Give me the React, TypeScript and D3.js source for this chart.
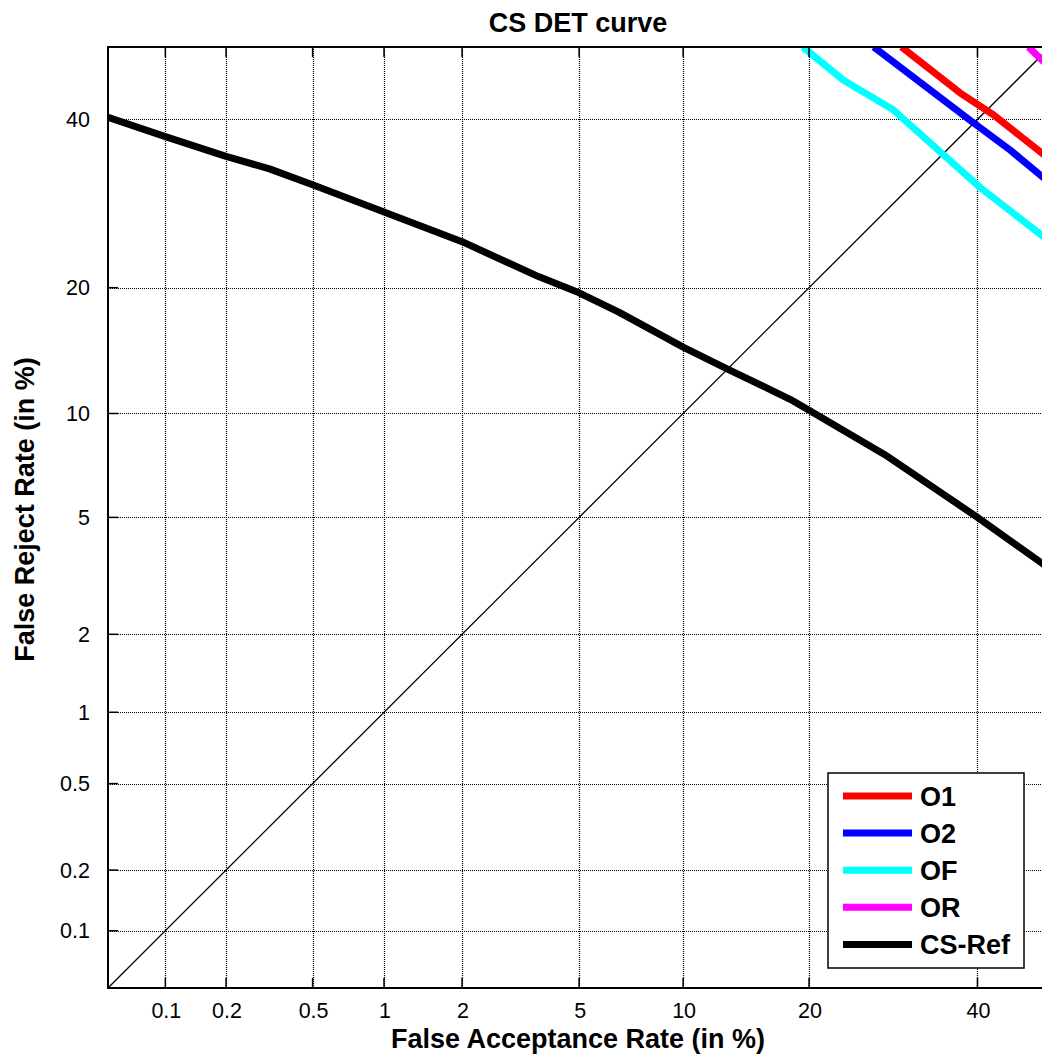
import React, { useRef, useEffect } from 'react';
import * as d3 from 'd3';

// DET axes: values in %, drawn on a normal-deviate (probit) scale
const xTicks = [0.1, 0.2, 0.5, 1, 2, 5, 10, 20, 40];
const yTicks = [0.1, 0.2, 0.5, 1, 2, 5, 10, 20, 40];
const axisMin = 0.05;
const axisMax = 50;

const seriesNames = ['O1', 'O2', 'OF', 'OR', 'CS-Ref'];
const seriesColors = ['#ff0000', '#0000ff', '#00ffff', '#ff00ff', '#000000'];

const o1Far = [30.2, 37.7, 42.2, 50];
const o1Frr = [50, 43.6, 40.6, 34.7];

const o2Far = [26.9, 39, 44.5, 50];
const o2Frr = [50, 39.9, 35.9, 31.7];

const ofFar = [19.4, 23.5, 29.2, 40.3, 50];
const ofFrr = [50, 45.4, 41.3, 31.2, 24.8];

const orFar = [47, 50];
const orFrr = [50, 47.1];

const refFar = [0.05, 0.1, 0.2, 0.32, 0.5, 1, 2, 3.7, 5, 6.6, 10, 13, 18.2, 20, 28.2, 40, 50];
const refFrr = [40.3, 37.7, 35.1, 33.5, 31.5, 28.2, 24.8, 21.1, 19.5, 17.7, 14.7, 13, 10.9, 10.2, 7.7, 5, 3.4];

const seriesFar = [o1Far, o2Far, ofFar, orFar, refFar];
const seriesFrr = [o1Frr, o2Frr, ofFrr, orFrr, refFrr];

// inverse normal CDF (Acklam)
function probit(p: number): number {
  const a = [-3.969683028665376e+01, 2.209460984245205e+02, -2.759285104469687e+02, 1.383577518672690e+02, -3.066479806614716e+01, 2.506628277459239e+00];
  const b = [-5.447609879822406e+01, 1.615858368580409e+02, -1.556989798598866e+02, 6.680131188771972e+01, -1.328068155288572e+01];
  const c = [-7.784894002430293e-03, -3.223964580411365e-01, -2.400758277161838e+00, -2.549732539343734e+00, 4.374664141464968e+00, 2.938163982698783e+00];
  const d = [7.784695709041462e-03, 3.224671290700398e-01, 2.445134137142996e+00, 3.754408661907416e+00];
  const pLow = 0.02425;
  if (p < pLow) {
    const q = Math.sqrt(-2 * Math.log(p));
    return (((((c[0] * q + c[1]) * q + c[2]) * q + c[3]) * q + c[4]) * q + c[5]) /
      ((((d[0] * q + d[1]) * q + d[2]) * q + d[3]) * q + 1);
  }
  if (p <= 1 - pLow) {
    const q = p - 0.5;
    const r = q * q;
    return (((((a[0] * r + a[1]) * r + a[2]) * r + a[3]) * r + a[4]) * r + a[5]) * q /
      (((((b[0] * r + b[1]) * r + b[2]) * r + b[3]) * r + b[4]) * r + 1);
  }
  const q = Math.sqrt(-2 * Math.log(1 - p));
  return -(((((c[0] * q + c[1]) * q + c[2]) * q + c[3]) * q + c[4]) * q + c[5]) /
    ((((d[0] * q + d[1]) * q + d[2]) * q + d[3]) * q + 1);
}

const layout = { width: 1042, height: 1056, left: 108, right: 1050, top: 47, bottom: 988 };

export default function App() {
  const ref = useRef<SVGSVGElement>(null);

  useEffect(() => {
    const svg = d3.select(ref.current);
    svg.selectAll('*').remove();

    const font = 'Arial, "Liberation Sans", Helvetica, sans-serif';

    const x = d3.scaleLinear()
      .domain([probit(axisMin / 100), probit(axisMax / 100)])
      .range([layout.left, layout.right]);
    const y = d3.scaleLinear()
      .domain([probit(axisMin / 100), probit(axisMax / 100)])
      .range([layout.bottom, layout.top]);
    const fx = (v: number) => x(probit(v / 100));
    const fy = (v: number) => y(probit(v / 100));

    svg.append('rect').attr('width', layout.width).attr('height', layout.height).attr('fill', '#fff');

    svg.append('defs').append('clipPath').attr('id', 'plotClip')
      .append('rect')
      .attr('x', layout.left).attr('y', layout.top)
      .attr('width', layout.right - layout.left).attr('height', layout.bottom - layout.top);

    // grid (dotted)
    const grid = svg.append('g').attr('stroke', '#000').attr('stroke-width', 1.2).attr('stroke-dasharray', '1,1');
    grid.selectAll('.vgrid').data(xTicks).join('line')
      .attr('class', 'vgrid')
      .attr('x1', d => Math.round(fx(d)) + 0.5).attr('x2', d => Math.round(fx(d)) + 0.5)
      .attr('y1', layout.top).attr('y2', layout.bottom);
    grid.selectAll('.hgrid').data(yTicks).join('line')
      .attr('class', 'hgrid')
      .attr('y1', d => Math.round(fy(d)) + 0.5).attr('y2', d => Math.round(fy(d)) + 0.5)
      .attr('x1', layout.left).attr('x2', layout.right);

    const plot = svg.append('g').attr('clip-path', 'url(#plotClip)');

    // EER diagonal
    plot.append('path')
      .datum([axisMin, axisMax])
      .attr('d', d3.line<number>().x(d => fx(d)).y(d => fy(d)))
      .attr('fill', 'none').attr('stroke', '#000').attr('stroke-width', 1.3);

    const line = d3.line<[number, number]>().x(d => fx(d[0])).y(d => fy(d[1]));
    seriesNames.forEach((name, i) => {
      const pts = seriesFar[i].map((v, j) => [v, seriesFrr[i][j]] as [number, number]);
      plot.append('path')
        .datum(pts)
        .attr('d', line)
        .attr('fill', 'none')
        .attr('stroke', seriesColors[i])
        .attr('stroke-width', 7)
        .attr('stroke-linejoin', 'round');
    });

    // frame
    svg.append('rect')
      .attr('x', layout.left).attr('y', layout.top)
      .attr('width', layout.right - layout.left).attr('height', layout.bottom - layout.top)
      .attr('fill', 'none').attr('stroke', '#000').attr('stroke-width', 2);

    // ticks (inward, MATLAB style)
    const tickLen = 10;
    const ticks = svg.append('g').attr('stroke', '#000').attr('stroke-width', 1.5);
    ticks.selectAll('.tb').data(xTicks).join('line').attr('class', 'tb')
      .attr('x1', d => fx(d)).attr('x2', d => fx(d))
      .attr('y1', layout.bottom).attr('y2', layout.bottom - tickLen);
    ticks.selectAll('.tt').data(xTicks).join('line').attr('class', 'tt')
      .attr('x1', d => fx(d)).attr('x2', d => fx(d))
      .attr('y1', layout.top).attr('y2', layout.top + tickLen);
    ticks.selectAll('.tl').data(yTicks).join('line').attr('class', 'tl')
      .attr('y1', d => fy(d)).attr('y2', d => fy(d))
      .attr('x1', layout.left).attr('x2', layout.left + tickLen);

    // tick labels
    svg.append('g').selectAll('text').data(xTicks).join('text')
      .attr('x', d => fx(d) + 1).attr('y', 1018)
      .attr('text-anchor', 'middle')
      .attr('font-family', font).attr('font-size', 21.5).attr('fill', '#000')
      .text(d => String(d));
    svg.append('g').selectAll('text').data(yTicks).join('text')
      .attr('x', 90).attr('y', d => fy(d))
      .attr('dy', '0.36em')
      .attr('text-anchor', 'end')
      .attr('font-family', font).attr('font-size', 21.5).attr('fill', '#000')
      .text(d => String(d));

    // titles
    const midX = (layout.left + layout.right) / 2;
    const midY = (layout.top + layout.bottom) / 2;
    svg.append('text')
      .attr('x', midX - 1).attr('y', 32)
      .attr('text-anchor', 'middle').attr('font-family', font)
      .attr('font-size', 27).attr('font-weight', 'bold')
      .text('CS DET curve');
    svg.append('text')
      .attr('x', midX - 1).attr('y', 1048)
      .attr('text-anchor', 'middle').attr('font-family', font)
      .attr('font-size', 27).attr('font-weight', 'bold')
      .text('False Acceptance Rate (in %)');
    svg.append('text')
      .attr('transform', `translate(34, ${midY - 8}) rotate(-90)`)
      .attr('text-anchor', 'middle').attr('font-family', font)
      .attr('font-size', 27).attr('font-weight', 'bold')
      .text('False Reject Rate (in %)');

    // legend
    const legend = svg.append('g');
    legend.append('rect')
      .attr('x', 828).attr('y', 773).attr('width', 196).attr('height', 195)
      .attr('fill', '#fff').attr('stroke', '#000').attr('stroke-width', 1.5);
    const rowY = (i: number) => 796 + i * 37.1;
    legend.selectAll('.legendLine').data(seriesNames).join('line')
      .attr('class', 'legendLine')
      .attr('x1', 843).attr('x2', 912)
      .attr('y1', (d, i) => rowY(i)).attr('y2', (d, i) => rowY(i))
      .attr('stroke', (d, i) => seriesColors[i]).attr('stroke-width', 7);
    legend.selectAll('.legendText').data(seriesNames).join('text')
      .attr('class', 'legendText')
      .attr('x', 920).attr('y', (d, i) => rowY(i))
      .attr('dy', '0.36em')
      .attr('font-family', font).attr('font-size', 27).attr('font-weight', 'bold')
      .text(d => d);
  }, []);

  return (
    <svg
      ref={ref}
      width={layout.width}
      height={layout.height}
      style={{ position: 'absolute', left: 0, top: 0, display: 'block' }}
    />
  );
}
